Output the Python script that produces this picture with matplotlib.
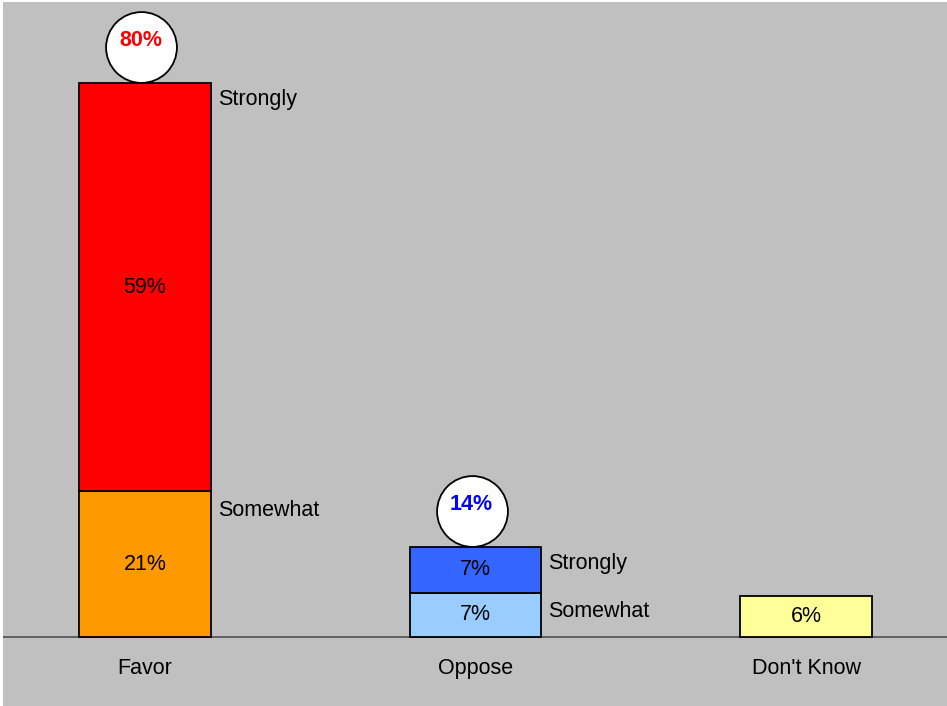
import matplotlib.pyplot as plt
from matplotlib import transforms

plt.rcParams['font.family'] = ['Liberation Sans', 'DejaVu Sans']

#========= Data =========
categories = ["Favor", "Oppose", "Don't Know"]
somewhat = [21, 6.4, 5.9]
strongly = [59, 6.6, 0]
somewhat_labels = ["21%", "7%", "6%"]
strongly_labels = ["59%", "7%", ""]
totals_labels = ["80%", "14%", ""]
somewhat_colors = ["#FF9900", "#99CCFF", "#FFFF99"]
strongly_colors = ["#FF0000", "#3366FF", "#FFFFFF"]
total_text_colors = ["#FF0000", "#0000FF", "black"]
side_labels = [True, True, False]

#========= Plot =========
fig = plt.figure(figsize=(9.47, 7.06), dpi=100, facecolor="white")
ax = fig.add_axes([3 / 947, 0, 944 / 947, 704 / 706])
ax.set_facecolor("#C0C0C0")

x = list(range(len(categories)))
width = 0.397
fs = 15.5

for i in x:
    ax.bar(i, somewhat[i], width=width, color=somewhat_colors[i],
           edgecolor="black", linewidth=1.3, zorder=2)
    ax.text(i, somewhat[i] / 2, somewhat_labels[i], ha="center", va="center",
            fontsize=fs, zorder=3)
    if strongly[i] > 0:
        ax.bar(i, strongly[i], bottom=somewhat[i], width=width,
               color=strongly_colors[i], edgecolor="black", linewidth=1.3, zorder=2)
        ax.text(i, somewhat[i] + strongly[i] / 2, strongly_labels[i],
                ha="center", va="center", fontsize=fs, zorder=3)

    total = somewhat[i] + strongly[i]

    # side labels next to each segment
    if side_labels[i]:
        ax.annotate("Strongly", xy=(i + width / 2, total), xytext=(5, -12),
                    textcoords="offset points", ha="left", va="center", fontsize=fs)
        ax.annotate("Somewhat", xy=(i + width / 2, somewhat[i]), xytext=(5, -13.5),
                    textcoords="offset points", ha="left", va="center", fontsize=fs)

    # circle with total on top of the bar
    if totals_labels[i]:
        tr = transforms.offset_copy(ax.transData, fig=fig, x=-4, y=35.5, units="dots")
        ax.plot(i, total, marker="o", markersize=51, markerfacecolor="white",
                markeredgecolor="black", markeredgewidth=1.3, transform=tr,
                clip_on=False, zorder=4)
        tr_txt = transforms.offset_copy(ax.transData, fig=fig, x=-4, y=42, units="dots")
        ax.text(i, total, totals_labels[i], transform=tr_txt, ha="center",
                va="center", fontsize=fs, fontweight="bold",
                color=total_text_colors[i], zorder=5)

# baseline
ax.axhline(0, color="#505050", linewidth=1.2, zorder=1)

# category labels
for i, cat in zip(x, categories):
    ax.annotate(cat, xy=(i, 0), xytext=(0, -23), textcoords="offset points",
                ha="center", va="center", fontsize=fs)

ax.set_xlim(-0.4297, 2.4266)
ax.set_ylim(-9.96, 91.63)
ax.set_xticks([])
ax.set_yticks([])
for s in ax.spines.values():
    s.set_visible(False)

fig.savefig("out.png", dpi=100, facecolor="white")
